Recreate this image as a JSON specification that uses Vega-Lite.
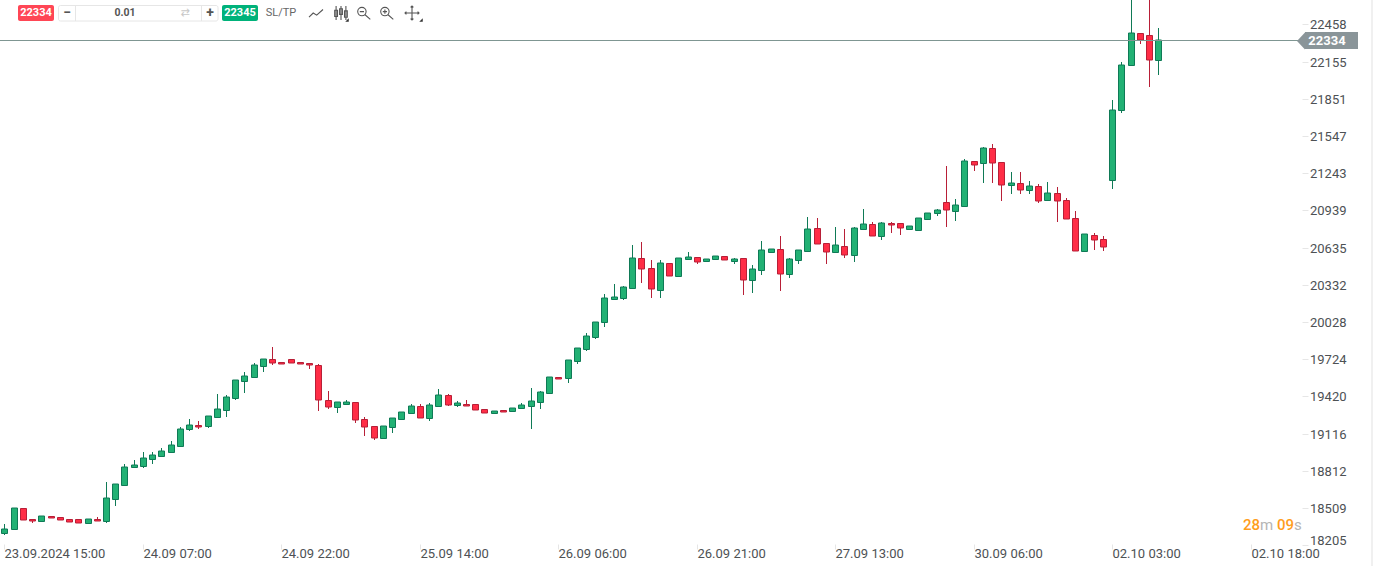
{"$schema":"https://vega.github.io/schema/vega-lite/v6.json","width":1373,"height":566,"padding":0,"autosize":{"type":"none"},"background":"white","config":{"view":{"stroke":null},"text":{"font":"Roboto"}},
"datasets":{"candles":[
{"i":0,"o":18306,"h":18373,"l":18291,"c":18339},{"i":1,"o":18339,"h":18505,"l":18339,"c":18505},{"i":2,"o":18505,"h":18505,"l":18412,"c":18412},{"i":3,"o":18415,"h":18415,"l":18381,"c":18404},{"i":4,"o":18404,"h":18440,"l":18404,"c":18440},{"i":5,"o":18440,"h":18440,"l":18429,"c":18429},{"i":6,"o":18431,"h":18431,"l":18412,"c":18412},{"i":7,"o":18415,"h":18415,"l":18396,"c":18396},{"i":8,"o":18415,"h":18415,"l":18388,"c":18388},{"i":9,"o":18388,"h":18415,"l":18388,"c":18415},
{"i":10,"o":18415,"h":18430,"l":18404,"c":18404},{"i":11,"o":18404,"h":18716,"l":18389,"c":18586},{"i":12,"o":18584,"h":18701,"l":18520,"c":18701},{"i":13,"o":18698,"h":18863,"l":18698,"c":18840},{"i":14,"o":18845,"h":18896,"l":18845,"c":18856},{"i":15,"o":18853,"h":18961,"l":18838,"c":18913},{"i":16,"o":18911,"h":18961,"l":18863,"c":18938},{"i":17,"o":18935,"h":18994,"l":18935,"c":18970},{"i":18,"o":18968,"h":19059,"l":18968,"c":19020},{"i":19,"o":19017,"h":19173,"l":19017,"c":19150},
{"i":20,"o":19156,"h":19231,"l":19133,"c":19183},{"i":21,"o":19183,"h":19222,"l":19149,"c":19172},{"i":22,"o":19180,"h":19256,"l":19165,"c":19256},{"i":23,"o":19254,"h":19435,"l":19254,"c":19314},{"i":24,"o":19311,"h":19427,"l":19255,"c":19412},{"i":25,"o":19409,"h":19551,"l":19386,"c":19551},{"i":26,"o":19548,"h":19615,"l":19451,"c":19583},{"i":27,"o":19581,"h":19696,"l":19581,"c":19673},{"i":28,"o":19670,"h":19722,"l":19615,"c":19722},{"i":29,"o":19722,"h":19819,"l":19672,"c":19695},
{"i":30,"o":19698,"h":19698,"l":19687,"c":19687},{"i":31,"o":19722,"h":19722,"l":19695,"c":19695},{"i":32,"o":19698,"h":19698,"l":19687,"c":19687},{"i":33,"o":19689,"h":19689,"l":19647,"c":19679},{"i":34,"o":19673,"h":19688,"l":19304,"c":19393},{"i":35,"o":19387,"h":19467,"l":19320,"c":19335},{"i":36,"o":19335,"h":19371,"l":19280,"c":19371},{"i":37,"o":19360,"h":19386,"l":19360,"c":19371},{"i":38,"o":19371,"h":19371,"l":19198,"c":19229},{"i":39,"o":19232,"h":19252,"l":19092,"c":19172},
{"i":40,"o":19175,"h":19175,"l":19067,"c":19082},{"i":41,"o":19082,"h":19175,"l":19082,"c":19175},{"i":42,"o":19172,"h":19240,"l":19124,"c":19240},{"i":43,"o":19237,"h":19289,"l":19237,"c":19289},{"i":44,"o":19286,"h":19359,"l":19286,"c":19338},{"i":45,"o":19338,"h":19359,"l":19246,"c":19246},{"i":46,"o":19246,"h":19367,"l":19222,"c":19346},{"i":47,"o":19344,"h":19481,"l":19329,"c":19428},{"i":48,"o":19428,"h":19443,"l":19337,"c":19352},{"i":49,"o":19352,"h":19383,"l":19329,"c":19363},
{"i":50,"o":19354,"h":19391,"l":19344,"c":19344},{"i":51,"o":19354,"h":19354,"l":19311,"c":19311},{"i":52,"o":19314,"h":19314,"l":19286,"c":19286},{"i":53,"o":19286,"h":19297,"l":19286,"c":19297},{"i":54,"o":19305,"h":19305,"l":19295,"c":19295},{"i":55,"o":19303,"h":19322,"l":19303,"c":19322},{"i":56,"o":19327,"h":19367,"l":19327,"c":19346},{"i":57,"o":19344,"h":19489,"l":19157,"c":19379},{"i":58,"o":19376,"h":19467,"l":19320,"c":19453},{"i":59,"o":19450,"h":19575,"l":19450,"c":19575},
{"i":60,"o":19575,"h":19575,"l":19564,"c":19564},{"i":61,"o":19572,"h":19714,"l":19525,"c":19714},{"i":62,"o":19711,"h":19812,"l":19680,"c":19812},{"i":63,"o":19809,"h":19941,"l":19789,"c":19910},{"i":64,"o":19907,"h":20024,"l":19892,"c":20024},{"i":65,"o":20030,"h":20260,"l":19990,"c":20220},{"i":66,"o":20218,"h":20334,"l":20203,"c":20229},{"i":67,"o":20226,"h":20325,"l":20203,"c":20310},{"i":68,"o":20308,"h":20660,"l":20308,"c":20547},{"i":69,"o":20547,"h":20677,"l":20342,"c":20463},
{"i":70,"o":20466,"h":20530,"l":20227,"c":20299},{"i":71,"o":20291,"h":20530,"l":20227,"c":20506},{"i":72,"o":20506,"h":20506,"l":20406,"c":20406},{"i":73,"o":20406,"h":20547,"l":20406,"c":20547},{"i":74,"o":20545,"h":20603,"l":20545,"c":20555},{"i":75,"o":20555,"h":20555,"l":20505,"c":20520},{"i":76,"o":20528,"h":20539,"l":20528,"c":20539},{"i":77,"o":20545,"h":20564,"l":20545,"c":20564},{"i":78,"o":20564,"h":20564,"l":20536,"c":20536},{"i":79,"o":20528,"h":20554,"l":20505,"c":20539},
{"i":80,"o":20547,"h":20547,"l":20244,"c":20373},{"i":81,"o":20373,"h":20489,"l":20268,"c":20457},{"i":82,"o":20455,"h":20685,"l":20415,"c":20613},{"i":83,"o":20602,"h":20621,"l":20602,"c":20621},{"i":84,"o":20621,"h":20726,"l":20284,"c":20422},{"i":85,"o":20422,"h":20554,"l":20383,"c":20539},{"i":86,"o":20536,"h":20613,"l":20505,"c":20613},{"i":87,"o":20610,"h":20881,"l":20610,"c":20784},{"i":88,"o":20792,"h":20873,"l":20667,"c":20667},{"i":89,"o":20670,"h":20670,"l":20505,"c":20602},
{"i":90,"o":20602,"h":20807,"l":20602,"c":20654},{"i":91,"o":20645,"h":20783,"l":20554,"c":20577},{"i":92,"o":20577,"h":20807,"l":20521,"c":20792},{"i":93,"o":20790,"h":20954,"l":20790,"c":20825},{"i":94,"o":20825,"h":20845,"l":20732,"c":20732},{"i":95,"o":20732,"h":20845,"l":20701,"c":20833},{"i":96,"o":20833,"h":20845,"l":20758,"c":20822},{"i":97,"o":20833,"h":20833,"l":20734,"c":20798},{"i":98,"o":20790,"h":20809,"l":20790,"c":20809},{"i":99,"o":20781,"h":20874,"l":20781,"c":20874},
{"i":100,"o":20871,"h":20915,"l":20871,"c":20915},{"i":101,"o":20920,"h":20954,"l":20897,"c":20939},{"i":102,"o":21005,"h":21298,"l":20807,"c":20945},{"i":103,"o":20937,"h":21036,"l":20856,"c":20980},{"i":104,"o":20978,"h":21355,"l":20978,"c":21340},{"i":105,"o":21340,"h":21340,"l":21257,"c":21313},{"i":106,"o":21329,"h":21461,"l":21159,"c":21446},{"i":107,"o":21446,"h":21485,"l":21159,"c":21329},{"i":108,"o":21332,"h":21332,"l":21012,"c":21149},{"i":109,"o":21149,"h":21249,"l":21077,"c":21160},
{"i":110,"o":21160,"h":21249,"l":21077,"c":21108},{"i":111,"o":21108,"h":21183,"l":21069,"c":21136},{"i":112,"o":21136,"h":21151,"l":21003,"c":21018},{"i":113,"o":21027,"h":21175,"l":21027,"c":21078},{"i":114,"o":21078,"h":21134,"l":20848,"c":21018},{"i":115,"o":21021,"h":21042,"l":20871,"c":20871},{"i":116,"o":20874,"h":20938,"l":20610,"c":20610},{"i":117,"o":20610,"h":20743,"l":20610,"c":20743},{"i":118,"o":20735,"h":20758,"l":20619,"c":20700},{"i":119,"o":20703,"h":20726,"l":20611,"c":20643},
{"i":120,"o":21185,"h":21837,"l":21110,"c":21756},{"i":121,"o":21756,"h":22155,"l":21731,"c":22124},{"i":122,"o":22124,"h":22654,"l":22124,"c":22386},{"i":123,"o":22386,"h":22386,"l":22297,"c":22328},{"i":124,"o":22369,"h":22700,"l":21951,"c":22170},{"i":125,"o":22170,"h":22433,"l":22049,"c":22334}
]},
"encoding":{"x":{"field":"i","type":"quantitative","scale":{"domain":[-0.4875,148.27],"nice":false,"zero":false,"round":true,"padding":0},"axis":{"values":[0,15,30,45,60,75,90,105,120,135],"labelExpr":"{'0':'23.09.2024 15:00','15':'24.09 07:00','30':'24.09 22:00','45':'25.09 14:00','60':'26.09 06:00','75':'26.09 21:00','90':'27.09 13:00','105':'30.09 06:00','120':'02.10 03:00','135':'02.10 18:00'}[datum.value]","labelAlign":"left","labelFont":"Roboto","labelFontSize":13,"labelColor":"#4d5154","labelPadding":-2,"labelOverlap":false,"labelBound":false,"labelFlush":false,"tickColor":"#e6e6e6","tickSize":5,"domain":false,"grid":false,"title":null,"offset":-22}}},
"layer":[
{"data":{"values":[{"i":148.05,"i2":148.27,"p":22657.9,"p2":18033.7}]},"mark":{"type":"rect","fill":"#f0f0f0"},"encoding":{"x2":{"field":"i2"},"y":{"field":"p","type":"quantitative","scale":{"domain":[18033.7,22657.9],"nice":false,"zero":false,"round":true},"axis":{"orient":"right","offset":-71,"values":[22458,22155,21851,21547,21243,20939,20635,20332,20028,19724,19420,19116,18812,18509,18205],"format":"d","labelFont":"Roboto","labelFontSize":13,"labelColor":"#4d5154","labelPadding":1.5,"labelOverlap":false,"labelBound":false,"labelOffset":{"condition":{"test":"datum.value==18205","value":-5},"value":0},"tickColor":"#e6e6e6","tickSize":6,"domain":false,"grid":false,"title":null}},"y2":{"field":"p2"}}},
{"data":{"name":"candles"},"mark":{"type":"rule","strokeWidth":1,"xOffset":0.5},"encoding":{"y":{"field":"h","type":"quantitative"},"y2":{"field":"l"},"stroke":{"condition":{"test":"datum.c>=datum.o","value":"#0f7a56"},"value":"#b81f37"}}},
{"data":{"name":"candles"},"mark":{"type":"bar","size":6,"strokeWidth":1,"xOffset":0.5,"yOffset":0.5},"encoding":{"y":{"field":"o","type":"quantitative"},"y2":{"field":"c"},"fill":{"condition":{"test":"datum.c>=datum.o","value":"#22b174"},"value":"#ff2d46"},"stroke":{"condition":{"test":"datum.c>=datum.o","value":"#0f7a56"},"value":"#b81f37"}}},
{"data":{"values":[{"i":-0.4875,"i2":140.1,"p":22334}]},"mark":{"type":"rule","stroke":"#7f9692","strokeWidth":1,"yOffset":0.5},"encoding":{"x2":{"field":"i2"},"y":{"field":"p","type":"quantitative"}}},
{"data":{"values":[{"i":140.9,"i2":146.6,"p":22397,"p2":22258}]},"mark":{"type":"rect","fill":"#8a9599"},"encoding":{"x2":{"field":"i2"},"y":{"field":"p","type":"quantitative"},"y2":{"field":"p2"}}},
{"data":{"values":[{"i":140.45,"p":22327,"s":"M.47 -1L-.47 0L.47 1Z"}]},"mark":{"type":"point","filled":true,"fill":"#8a9599","stroke":null,"size":289,"opacity":1},"encoding":{"y":{"field":"p","type":"quantitative"},"shape":{"field":"s","type":"nominal","scale":null}}},
{"data":{"values":[{"i":143.3,"p":22327,"t":"22334"}]},"mark":{"type":"text","font":"Roboto","fontSize":13,"fontWeight":"bold","fill":"#ffffff","align":"center","baseline":"middle"},"encoding":{"y":{"field":"p","type":"quantitative"},"text":{"field":"t"}}},
{"data":{"values":[{"i":1.463,"i2":5.363,"p":22617,"p2":22486}]},"mark":{"type":"rect","fill":"#ff4655","cornerRadius":2},"encoding":{"x2":{"field":"i2"},"y":{"field":"p","type":"quantitative"},"y2":{"field":"p2"}}},
{"data":{"values":[{"i":23.565,"i2":27.465,"p":22617,"p2":22486}]},"mark":{"type":"rect","fill":"#00b27a","cornerRadius":2},"encoding":{"x2":{"field":"i2"},"y":{"field":"p","type":"quantitative"},"y2":{"field":"p2"}}},
{"data":{"values":[{"i":5.796,"i2":23.13,"p":22617,"p2":22486}]},"mark":{"type":"rect","fill":"#ffffff","stroke":"#e6e6e6","strokeWidth":1,"cornerRadius":2,"xOffset":0.5,"yOffset":0.5},"encoding":{"x2":{"field":"i2"},"y":{"field":"p","type":"quantitative"},"y2":{"field":"p2"}}},
{"data":{"values":[{"i":7.638,"p":22617,"p2":22486},{"i":21.29,"p":22617,"p2":22486}]},"mark":{"type":"rule","stroke":"#e6e6e6","strokeWidth":1,"xOffset":0.5},"encoding":{"y":{"field":"p","type":"quantitative"},"y2":{"field":"p2"}}},
{"data":{"values":[{"i":3.413,"p":22552,"t":"22334"},{"i":25.515,"p":22552,"t":"22345"}]},"mark":{"type":"text","font":"Roboto","fontSize":11,"fontWeight":"bold","fill":"#ffffff","align":"center","baseline":"middle"},"encoding":{"y":{"field":"p","type":"quantitative"},"text":{"field":"t"}}},
{"data":{"values":[{"i":13.056,"p":22552,"t":"0.01"}]},"mark":{"type":"text","font":"Roboto","fontSize":10.5,"fontWeight":"bold","fill":"#555555","align":"center","baseline":"middle"},"encoding":{"y":{"field":"p","type":"quantitative"},"text":{"field":"t"}}},
{"data":{"values":[{"i":6.77,"p":22552,"t":"−"},{"i":22.265,"p":22552,"t":"+"}]},"mark":{"type":"text","font":"Roboto","fontSize":14,"fontWeight":"bold","fill":"#555555","align":"center","baseline":"middle"},"encoding":{"y":{"field":"p","type":"quantitative"},"text":{"field":"t"}}},
{"data":{"values":[{"i":19.556,"p":22552,"t":"⇄"}]},"mark":{"type":"text","font":"DejaVu Sans","fontSize":11,"fill":"#c8c8c8","align":"center","baseline":"middle"},"encoding":{"y":{"field":"p","type":"quantitative"},"text":{"field":"t"}}},
{"data":{"values":[{"i":29.957,"p":22552,"t":"SL/TP"}]},"mark":{"type":"text","font":"Roboto","fontSize":11,"fill":"#666666","align":"center","baseline":"middle"},"encoding":{"y":{"field":"p","type":"quantitative"},"text":{"field":"t"}}},
{"data":{"values":[{"i":33.75,"p":22552,"s":"M-1 .6L-.4 0L.1 .3L1 -.5"},{"i":36.46,"p":22552,"s":"M-.7 -1V1M-.9 -.4H-.5V.5H-.9ZM0 -1V1M-.2 -.6H.2V.2H-.2ZM.7 -1V1M.5 -.3H.9V.6H.5Z"},{"i":38.9,"p":22552,"s":"M.3 -.2A.6 .6 0 1 0 -.9 -.2A.6 .6 0 1 0 .3 -.2ZM.15 .25L.9 .9M-.6 -.2H0"},{"i":41.44,"p":22552,"s":"M.3 -.2A.6 .6 0 1 0 -.9 -.2A.6 .6 0 1 0 .3 -.2ZM.15 .25L.9 .9M-.6 -.2H0M-.3 -.5V.1"},{"i":44.15,"p":22552,"s":"M-1 0H1M0 -1V1M-.8 -.2L-1 0L-.8 .2M.8 -.2L1 0L.8 .2M-.2 -.8L0 -1L.2 -.8M-.2 .8L0 1L.2 .8"}]},"mark":{"type":"point","filled":false,"stroke":"#555555","strokeWidth":1.1,"size":196,"opacity":1},"encoding":{"y":{"field":"p","type":"quantitative"},"shape":{"field":"s","type":"nominal","scale":null}}},
{"data":{"values":[{"i":37.1,"p":22495,"s":"M1 -1V1H-1Z"},{"i":45.1,"p":22495,"s":"M1 -1V1H-1Z"}]},"mark":{"type":"point","filled":true,"fill":"#333333","stroke":null,"size":12,"opacity":1},"encoding":{"y":{"field":"p","type":"quantitative"},"shape":{"field":"s","type":"nominal","scale":null}}},
{"data":{"values":[{"i":134.2,"p":18369,"t":"28"},{"i":137.9,"p":18369,"t":"09"}]},"mark":{"type":"text","font":"Roboto","fontSize":15,"fontWeight":500,"fill":"#ff9d1c","align":"left","baseline":"middle"},"encoding":{"y":{"field":"p","type":"quantitative"},"text":{"field":"t"}}},
{"data":{"values":[{"i":136.0,"p":18369,"t":"m"},{"i":139.7,"p":18369,"t":"s"}]},"mark":{"type":"text","font":"Roboto","fontSize":15,"fill":"#b5b5b5","align":"left","baseline":"middle"},"encoding":{"y":{"field":"p","type":"quantitative"},"text":{"field":"t"}}}
]}
